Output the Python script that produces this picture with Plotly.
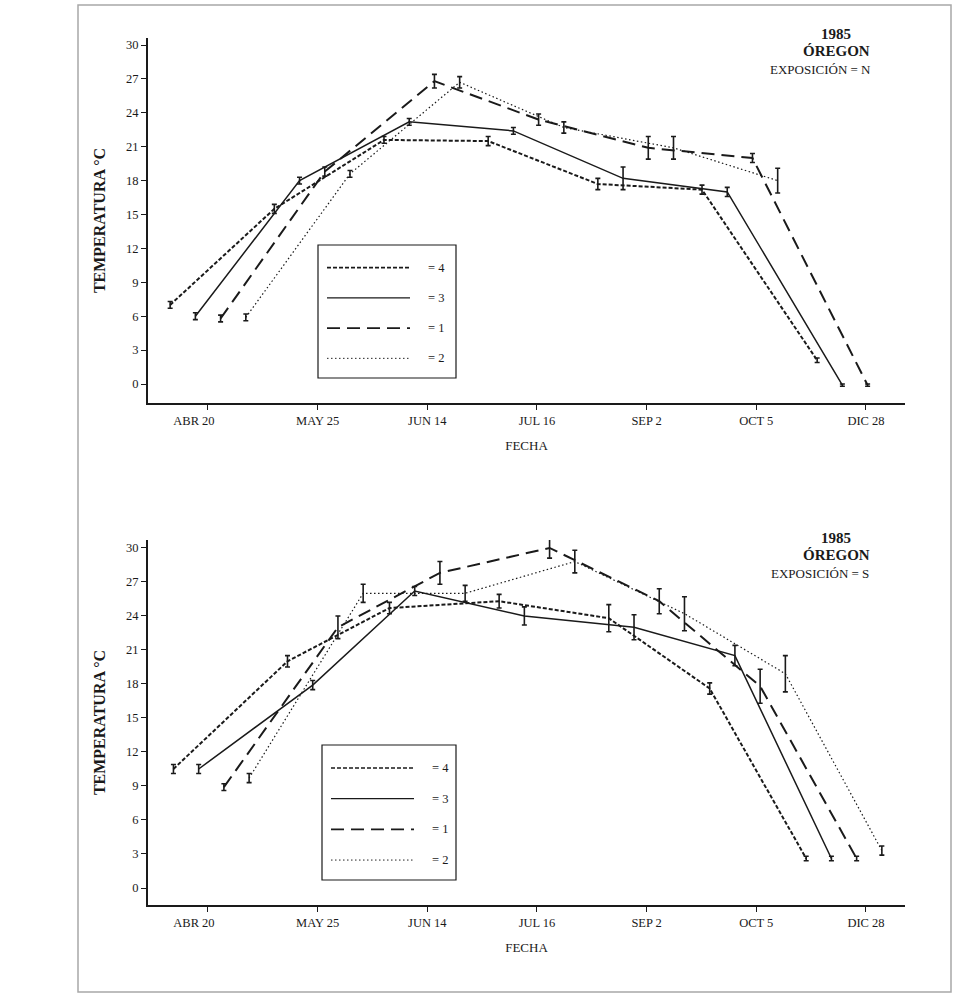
import plotly.graph_objects as go

# Tick dates on the (equally spaced) time axis
fechas = ["ABR 20", "MAY 25", "JUN 14", "JUL 16", "SEP 2", "OCT 5", "DIC 28"]
series = ["4", "3", "1", "2"]

# Sampling moments expressed on the tick scale (0 = ABR 20 ... 6 = DIC 28)
n_muestreo = [0.0, 0.95, 1.95, 2.9, 3.9, 4.85, 5.9]
s_muestreo = [0.03, 1.07, 2.0, 3.0, 4.0, 4.92, 5.8]

# 1985, Oregon, exposición N: mean temperature (°C) and error half-width
n_4 = [7.0, 15.5, 21.6, 21.5, 17.7, 17.2, 2.1]
n_3 = [6.0, 18.0, 23.2, 22.4, 18.2, 17.0, -0.1]
n_1 = [5.8, 18.8, 26.8, 23.4, 20.9, 20.0, -0.1]
n_2 = [5.9, 18.6, 26.7, 22.7, 20.9, 18.0, None]
n_4_err = [0.3, 0.4, 0.3, 0.4, 0.5, 0.4, 0.2]
n_3_err = [0.3, 0.3, 0.3, 0.3, 1.0, 0.4, 0.1]
n_1_err = [0.3, 0.4, 0.6, 0.5, 1.0, 0.4, 0.1]
n_2_err = [0.3, 0.3, 0.5, 0.5, 1.0, 1.1, None]

# 1985, Oregon, exposición S
s_4 = [10.5, 20.0, 24.7, 25.3, 23.8, 17.6, 2.6]
s_3 = [10.5, 17.9, 26.2, 24.0, 23.0, 20.5, 2.6]
s_1 = [8.9, 23.0, 27.8, 30.0, 25.3, 17.8, 2.6]
s_2 = [9.7, 26.0, 26.0, 28.8, 24.2, 18.9, 3.3]
s_4_err = [0.4, 0.5, 0.5, 0.6, 1.2, 0.5, 0.2]
s_3_err = [0.4, 0.4, 0.4, 0.8, 1.1, 0.9, 0.2]
s_1_err = [0.3, 1.0, 1.0, 0.9, 1.1, 1.5, 0.2]
s_2_err = [0.4, 0.8, 0.7, 1.0, 1.5, 1.6, 0.4]

y_ticks = list(range(0, 31, 3))

# Per-series drawing style; each series is nudged sideways so the bars do not overlap
style = {
    "4": dict(dash="4px,2px", width=2.0, offset=-0.345),
    "3": dict(dash="solid", width=1.5, offset=-0.115),
    "1": dict(dash="13px,7px", width=2.0, offset=0.115),
    "2": dict(dash="1.5px,2.5px", width=1.2, offset=0.345),
}

panels = [
    ("N", n_muestreo, {"4": (n_4, n_4_err), "3": (n_3, n_3_err), "1": (n_1, n_1_err), "2": (n_2, n_2_err)}, "x", "y"),
    ("S", s_muestreo, {"4": (s_4, s_4_err), "3": (s_3, s_3_err), "1": (s_1, s_1_err), "2": (s_2, s_2_err)}, "x2", "y2"),
]

INK = "#1a1a1a"
SERIF = "Liberation Serif, Times New Roman, serif"

fig = go.Figure()
for _, pos, data, xa, ya in panels:
    for name in series:
        vals, errs = data[name]
        st = style[name]
        xs = [p + st["offset"] for p in pos]
        fig.add_trace(go.Scatter(
            x=xs, y=vals, xaxis=xa, yaxis=ya, mode="lines", name="= " + name,
            line=dict(color=INK, width=st["width"], dash=st["dash"]),
            error_y=dict(type="data", array=[e if e is not None else 0 for e in errs],
                         visible=True, color=INK, thickness=1.6, width=2.5),
            showlegend=False, connectgaps=False,
        ))

W, H = 962, 1001


def px(x):
    return x / W


def py(y):
    return 1 - y / H


x_range = [-0.547, 6.356]
axis_common = dict(
    showline=True, linewidth=2.2, linecolor=INK, mirror=False,
    showgrid=False, zeroline=False, ticks="outside", ticklen=5, tickwidth=1.2,
    tickcolor=INK, tickfont=dict(family=SERIF, size=12.5, color=INK),
)
x_labels = ["ABR 20" + "\u00a0" * 9] + fechas[1:]
x_title = dict(text="FECHA", standoff=14, font=dict(family=SERIF, size=13, color=INK))
y_title = dict(text="<b>TEMPERATURA °C</b>", standoff=16, font=dict(family=SERIF, size=16, color=INK))

fig.update_layout(
    width=W, height=H, margin=dict(l=0, r=0, t=0, b=0),
    paper_bgcolor="white", plot_bgcolor="white", showlegend=False,
    xaxis=dict(domain=[px(148), px(905)], range=x_range, anchor="y",
               tickvals=list(range(len(fechas))), ticktext=x_labels, title=x_title, **axis_common),
    yaxis=dict(domain=[py(403), py(38)], range=[-1.68, 30.62], anchor="x",
               tickvals=y_ticks, title=y_title, **axis_common),
    xaxis2=dict(domain=[px(148), px(905)], range=x_range, anchor="y2",
                tickvals=list(range(len(fechas))), ticktext=x_labels, title=x_title, **axis_common),
    yaxis2=dict(domain=[py(905), py(540)], range=[-1.5, 30.7], anchor="x2",
                tickvals=y_ticks, title=y_title, **axis_common),
)

shapes = []
annotations = []

# Outer frame around the whole figure
shapes.append(dict(type="rect", xref="paper", yref="paper",
                   x0=px(78), x1=px(951), y0=py(992), y1=py(5),
                   line=dict(color="#a8a8a8", width=1.5)))


def note(text, x, y, size, anchor="center"):
    return dict(text=text, x=px(x), y=py(y), xref="paper", yref="paper",
                xanchor=anchor, yanchor="middle", showarrow=False,
                font=dict(family=SERIF, size=size, color=INK))


# Panel headers
for label, top in (("N", 34), ("S", 538)):
    annotations += [
        note("<b>1985</b>", 836, top, 15),
        note("<b>ÓREGON</b>", 836, top + 17, 15),
        note("EXPOSICIÓN = " + label, 820, top + 35, 13),
    ]

# Hand-built legend boxes with long line samples
for (bx0, by0, bx1, by1) in ((318, 245, 456, 378), (322, 745, 456, 880)):
    shapes.append(dict(type="rect", xref="paper", yref="paper",
                       x0=px(bx0), x1=px(bx1), y0=py(by1), y1=py(by0),
                       line=dict(color=INK, width=1.2), fillcolor="white"))
    step = (by1 - by0) / 4.4
    for k, name in enumerate(series):
        yy = by0 + step * (0.75 + k)
        st = style[name]
        shapes.append(dict(type="line", xref="paper", yref="paper",
                           x0=px(bx0 + 9), x1=px(bx0 + 92), y0=py(yy), y1=py(yy),
                           line=dict(color=INK, width=st["width"] * 0.8, dash=st["dash"])))
        annotations.append(note("= " + name, bx0 + 108, yy, 12.5, anchor="left"))

fig.update_layout(shapes=shapes, annotations=annotations)
fig.write_html("out.html")
